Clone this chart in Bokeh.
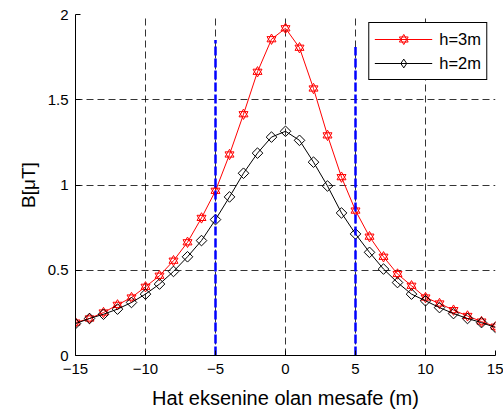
from bokeh.plotting import figure
from bokeh.models import Range1d, FixedTicker, Legend, LegendItem
from bokeh.embed import file_html
from bokeh.resources import INLINE
import numpy as np

# ---- data ----
x_vals = list(range(-15, 16))
h3m = [0.193, 0.217, 0.252, 0.297, 0.340, 0.403, 0.468, 0.556, 0.664, 0.807,
       0.966, 1.179, 1.415, 1.664, 1.855, 1.919, 1.805, 1.566, 1.291, 1.046,
       0.850, 0.697, 0.579, 0.478, 0.409, 0.340, 0.305, 0.266, 0.232, 0.199, 0.169]
h2m = [0.187, 0.217, 0.242, 0.272, 0.311, 0.360, 0.419, 0.493, 0.579, 0.674,
       0.797, 0.930, 1.069, 1.187, 1.281, 1.315, 1.262, 1.134, 0.994, 0.836,
       0.713, 0.605, 0.507, 0.428, 0.360, 0.321, 0.281, 0.246, 0.217, 0.193, 0.164]
vline_x = [-5, 5]
vline_bottom = [0, 0]
vline_top = [1.85, 1.81]
x_ticks = [-15, -10, -5, 0, 5, 10, 15]
y_ticks = [0, 0.5, 1, 1.5, 2]
y_tick_labels = ["0", "0.5", "1", "1.5", "2"]
series_labels = ["h=3m", "h=2m"]
x_label = "Hat eksenine olan mesafe (m)"
y_label = "B[\u03bcT]"

FONT = "Liberation Sans"

p = figure(width=503, height=414, output_backend="svg", toolbar_location=None,
           x_range=Range1d(-15, 15), y_range=Range1d(0, 2))
p.min_border_left = 75
p.min_border_right = 8
p.min_border_top = 14
p.min_border_bottom = 59
p.outline_line_color = None
p.background_fill_color = "white"
p.border_fill_color = "white"

for ax in (p.xaxis, p.yaxis):
    ax.axis_line_color = "black"
    ax.axis_line_width = 1
    ax.major_tick_in = 5
    ax.major_tick_out = 0
    ax.minor_tick_line_color = None
    ax.major_label_text_font = FONT
    ax.major_label_text_font_size = "15px"
    ax.major_label_text_color = "black"
    ax.axis_label_text_font = FONT
    ax.axis_label_text_font_style = "normal"
    ax.axis_label_text_color = "black"

p.xaxis.ticker = FixedTicker(ticks=x_ticks)
p.yaxis.ticker = FixedTicker(ticks=y_ticks)
p.yaxis.major_label_overrides = {t: l for t, l in zip(y_ticks, y_tick_labels)}
p.xaxis.axis_label = x_label
p.yaxis.axis_label = y_label
p.xaxis.axis_label_text_font_size = "20px"
p.yaxis.axis_label_text_font_size = "19px"
p.xaxis.major_label_standoff = 8
p.xaxis.axis_label_standoff = 10
p.yaxis.major_label_standoff = 7
p.yaxis.axis_label_standoff = 6

for g in (p.xgrid, p.ygrid):
    g.grid_line_color = "black"
    g.grid_line_alpha = 1
    g.grid_line_width = 0.8
    g.grid_line_dash = "7 4"
p.xgrid.ticker = FixedTicker(ticks=x_ticks)
p.ygrid.ticker = FixedTicker(ticks=y_ticks)

# series
r_line = p.line(x_vals, h3m, line_color="red", line_width=1)
r_t1 = p.scatter(x_vals, h3m, marker="triangle", size=9, line_color="red",
                 fill_color=None, line_width=1)
r_t2 = p.scatter(x_vals, h3m, marker="inverted_triangle", size=9, line_color="red",
                 fill_color=None, line_width=1)
b_line = p.line(x_vals, h2m, line_color="black", line_width=1)
b_sq = p.scatter(x_vals, h2m, marker="square", angle=np.pi / 4, size=7.5,
                 line_color="black", fill_color=None, line_width=1)
# legend-only diamond glyph (not drawn in the plot)
b_leg = p.scatter(x_vals, h2m, marker="diamond", size=10, line_color="black",
                  fill_color=None, line_width=1, visible=False)

# blue dashed vertical lines
p.segment(x0=vline_x, y0=vline_bottom, x1=vline_x, y1=vline_top,
          line_color="#0000ff", line_width=2.5, line_dash="9 3")

legend = Legend(items=[
    LegendItem(label=series_labels[0], renderers=[r_line, r_t1, r_t2]),
    LegendItem(label=series_labels[1], renderers=[b_line, b_leg]),
])
legend.location = "top_right"
legend.margin = 8
legend.padding = 5
legend.spacing = 2
legend.glyph_width = 58
legend.glyph_height = 22
legend.label_height = 22
legend.label_standoff = 7
legend.label_text_font = FONT
legend.label_text_font_size = "16.5px"
legend.label_text_color = "black"
legend.border_line_color = "black"
legend.border_line_width = 1
legend.border_line_alpha = 1
legend.background_fill_color = "white"
legend.background_fill_alpha = 1
p.add_layout(legend)

open("out.html", "w").write(file_html(p, INLINE))
